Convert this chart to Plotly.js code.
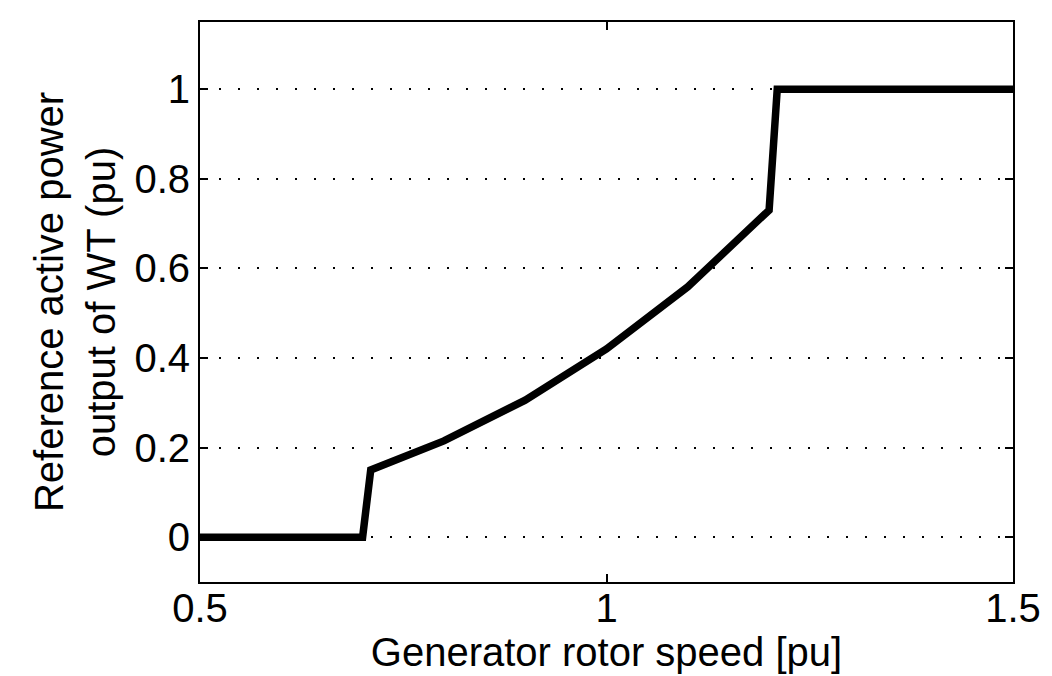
<!DOCTYPE html>
<html>
<head>
<meta charset="utf-8">
<script src="https://cdn.plot.ly/plotly-3.0.1.min.js"></script>
<style>html,body{margin:0;padding:0;background:#fff;}#chart{width:1052px;height:676px;}</style>
</head>
<body>
<div id="chart"></div>
<script>
// Power reference curve of the wind turbine vs generator rotor speed
const rotorSpeed = [0.5, 0.70, 0.71, 0.80, 0.90, 1.00, 1.10, 1.20, 1.21, 1.50];
const activePower = [0.0, 0.0, 0.15, 0.215, 0.306, 0.42, 0.559, 0.73, 1.0, 1.0];
const xTicks = [0.5, 1, 1.5];
const xTickText = ['0.5', '1', '1.5'];
const yTicks = [0, 0.2, 0.4, 0.6, 0.8, 1];
const yTickText = ['0', '0.2', '0.4', '0.6', '0.8', '1'];

const font = {family: 'Liberation Sans, Arial, Helvetica, sans-serif', color: '#000'};
const fs = 40;

const trace = {
  x: rotorSpeed,
  y: activePower,
  type: 'scatter',
  mode: 'lines',
  line: {color: '#000', width: 7.5, shape: 'linear'},
  hoverinfo: 'skip'
};

const layout = {
  width: 1052,
  height: 676,
  margin: {l: 200, r: 39, t: 22, b: 94},
  paper_bgcolor: '#fff',
  plot_bgcolor: '#fff',
  showlegend: false,
  font: Object.assign({size: fs}, font),
  xaxis: {
    range: [0.5, 1.5],
    tickvals: xTicks,
    ticktext: xTickText,
    ticks: 'inside',
    ticklen: 8,
    tickwidth: 2,
    tickcolor: '#000',
    ticklabelstandoff: -10,
    showgrid: false,
    zeroline: false,
    showline: true,
    linecolor: '#000',
    linewidth: 2,
    mirror: 'ticks',
    automargin: false,
    tickfont: Object.assign({size: fs}, font),
    title: {text: 'Generator rotor speed [pu]', font: Object.assign({size: fs}, font), standoff: 4}
  },
  yaxis: {
    range: [-0.1, 1.15],
    tickvals: yTicks,
    ticktext: yTickText,
    ticks: 'inside',
    ticklen: 8,
    tickwidth: 2,
    tickcolor: '#000',
    showgrid: true,
    gridcolor: '#000',
    gridwidth: 1.8,
    griddash: '2px,17px',
    zeroline: false,
    showline: true,
    linecolor: '#000',
    linewidth: 2,
    mirror: 'ticks',
    automargin: false,
    tickfont: Object.assign({size: fs}, font),
    title: {text: 'Reference active power<br>output of WT (pu)', font: Object.assign({size: fs}, font), standoff: 6}
  }
};

Plotly.newPlot('chart', [trace], layout, {displayModeBar: false, staticPlot: true});
</script>
</body>
</html>
